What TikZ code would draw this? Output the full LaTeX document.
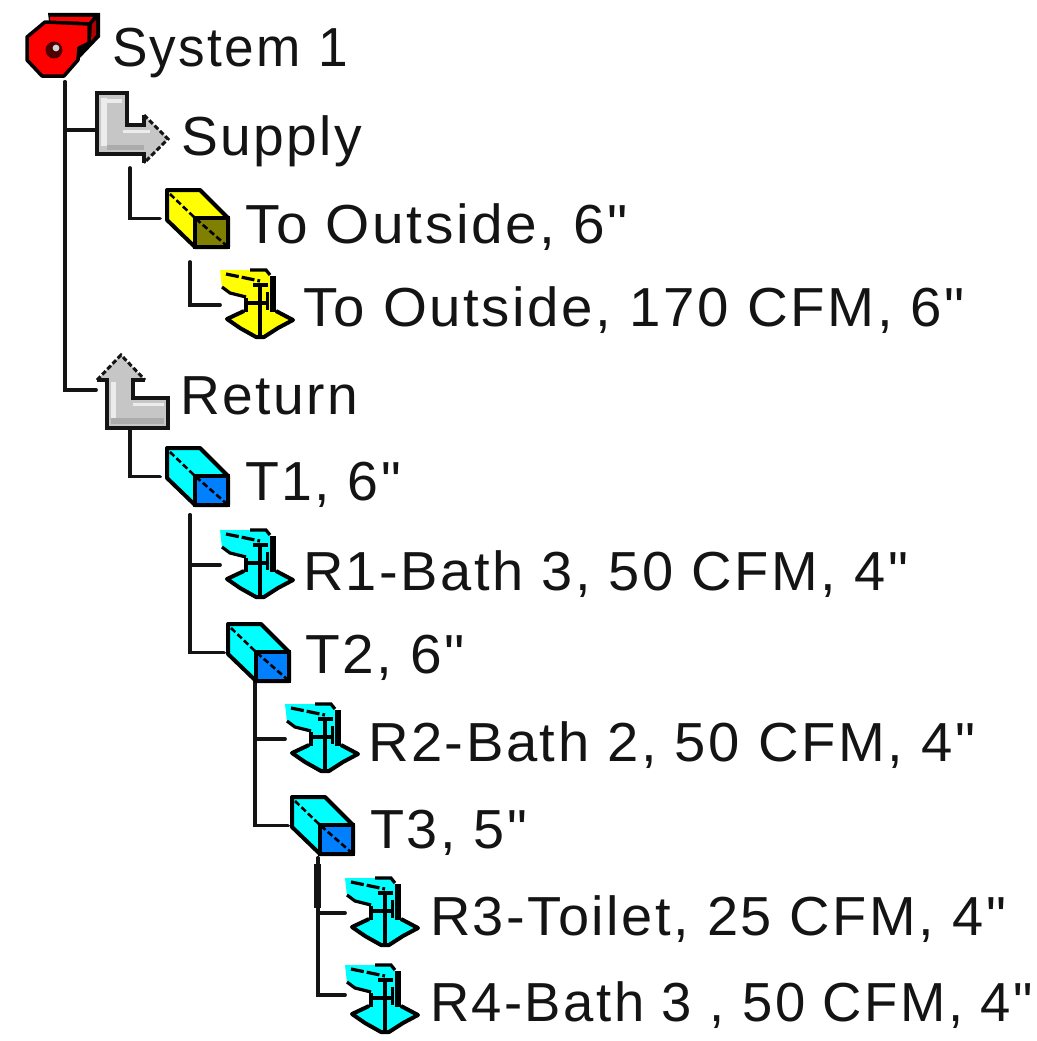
\documentclass[tikz,border=0pt]{standalone}
\usepackage{graphicx}
\usepackage{fontspec}
\newfontfamily\labfont[LetterSpace=4.5]{Liberation Sans}
\newcommand{\fitlab}[2]{\resizebox{#1pt}{\height}{#2}}
\definecolor{cyanL}{HTML}{00FFFF}
\definecolor{cyanD}{HTML}{0080FF}
\definecolor{yelL}{HTML}{FFFF00}
\definecolor{yelD}{HTML}{808000}
\definecolor{inkc}{HTML}{141414}
\tikzset{
  x=1pt,y=-1pt,
  tree/.style={draw=inkc,line width=3.8pt,line cap=round,line join=miter},
  iconbox/.style={inner sep=0pt,outer sep=0pt,minimum width=#1,anchor=center},
  ductbox/.style={inner sep=0pt,outer sep=0pt,minimum width=61pt,minimum height=57pt,anchor=north west},
  grillebox/.style={inner sep=0pt,outer sep=0pt,minimum width=73pt,minimum height=70pt,anchor=north west},
  lab/.style={anchor=base west,inner sep=0pt,outer sep=0pt,text=inkc,font=\labfont\fontsize{55}{60}\selectfont},
  pics/duct/.style n args={2}{code={
    \fill[#1] (0,0)--(33,0)--(61,28)--(61,57)--(28,57)--(0,30)--cycle;
    \fill[#2] (28,28) rectangle (61,57);
    \draw[black,line width=4pt,line join=round] (0,0)--(33,0)--(61,28)--(61,57)--(28,57)--(0,30)--cycle;
    \draw[black,line width=3.5pt] (28,28) rectangle (61,57);
    \draw[black,line width=2.6pt,dash pattern=on 6pt off 3pt] (3,4)--(28,28)--(60,56);
  }},
  pics/grille/.style={code={
    \fill[#1] (0,0)--(46,0)--(50,6)--(55,6)--(55,40)--(60,42)--(73,50)--(58,58)--(43,67)--(36,67)--(20,58)--(5,49)--(20,42)--(26,38)--(24,28)--(10,24)--(2,18)--cycle;
    \draw[black,line width=3.2pt] (30,0)--(46,0)--(50,5);
    \draw[black,line width=6pt] (53,6)--(53,42);
    \draw[black,line width=3.2pt,dash pattern=on 13pt off 3pt] (6,4)--(40,11);
    \draw[black,line width=3.2pt] (2,17)--(10,23)--(26,27);
    \draw[black,line width=4pt] (40,13)--(40,67);
    \draw[black,line width=3.2pt] (33,15)--(48,15) (28,33)--(48,33);
    \draw[black,line width=3.6pt] (26,28)--(26,42);
    \draw[black,line width=3pt] (47,22)--(47,40);
    \draw[black,line width=4pt,line join=round] (24,41)--(7,49)--(20,58)--(36,67)--(44,67)--(58,58)--(73,50)--(56,41);
  }}
}
\begin{document}
\begin{tikzpicture}[x=1pt,y=-1pt]
\useasboundingbox (0,0) rectangle (1036,1041);
% icon placeholders
\node[iconbox=73pt,minimum height=62pt] (sys) at (63.5,44) {};
\node[iconbox=71pt,minimum height=70pt] (sup) at (132.5,130) {};
\node[ductbox] (dOut) at (167,190) {};
\node[grillebox] (gOut) at (220,270) {};
\node[iconbox=73pt,minimum height=76pt] (ret) at (132.5,390) {};
\node[ductbox] (t1) at (167,448) {};
\node[grillebox] (g1) at (220,530) {};
\node[ductbox] (t2) at (228,624) {};
\node[grillebox] (g2) at (285,704) {};
\node[ductbox] (t3) at (292,797) {};
\node[grillebox] (g3) at (345,878) {};
\node[grillebox,minimum height=60pt] (g4) at (345,965) {};
% stems
\coordinate (stemA) at (65,82);
\coordinate (stemB) at (130,168);
\coordinate (stemC) at (190,262);
\coordinate (stemD) at (130,428);
\coordinate (stemE) at (190,515);
\coordinate (stemF) at (255,682);
\coordinate (stemG) at (318,858);
% connectors
\draw[tree] (stemA) |- (sup.west);
\draw[tree] (stemA) |- (ret.west);
\draw[tree,shorten >=7pt] (stemB) |- (dOut.west);
\draw[tree] (stemC) |- (gOut.west);
\draw[tree,shorten >=7pt] (stemD) |- (t1.west);
\draw[tree] (stemE) |- (g1.west);
\draw[tree,shorten >=4pt] (stemE) |- (t2.west);
\draw[tree] (stemF) |- (g2.west);
\draw[tree,shorten >=4pt] (stemF) |- (t3.west);
\draw[tree] (stemG) |- (g3.west);
\draw[tree] (stemG) |- (g4.west);
\draw[draw=inkc,line width=7pt] (317,864)--(317,908);
% system fan
\fill[black] (48,13)--(100,13)--(100,37)--(78,60)--(50,30)--cycle;
\fill[red] (50,17)--(93,17)--(89,22)--(50,21)--cycle;
\fill[red!70!black] (92,24)--(96,20)--(96,35)--(91,41)--cycle;
\fill[red] (27,37)--(45,22)--(89,24)--(89,43)--(79,48)--(78,60)--(64,76)--(42,76)--(27,60)--cycle;
\draw[black,line width=3.5pt,line join=round] (27,37)--(45,22)--(89,24)--(89,43)--(79,48)--(78,60)--(64,76)--(42,76)--(27,60)--cycle;
\fill[red!30!black] (54,50) circle (8.5);
\fill[gray!35] (56,48) circle (3.4);
% supply arrow
\fill[gray!45] (97,93)--(127,93)--(127,125)--(144,125)--(144,115)--(168,139)--(144,163)--(144,154)--(97,154)--cycle;
\fill[gray!15] (101,98) rectangle (107,146);
\fill[gray!15] (107,99) rectangle (122,103);
\fill[gray!15] (123,130) rectangle (150,133);
\fill[gray!65] (107,145) rectangle (144,150);
\draw[inkc,line width=4pt,line join=miter] (144,115)--(144,125)--(127,125)--(127,93)--(97,93)--(97,154)--(144,154)--(144,163);
\draw[inkc,line width=3pt,dash pattern=on 5pt off 2.5pt] (144,115)--(168,139)--(144,163);
% return arrow
\fill[gray!45] (121,355)--(145,380)--(133,380)--(133,398)--(168,398)--(168,428)--(107,428)--(107,380)--(97,380)--cycle;
\fill[gray!15] (111,382) rectangle (116,418);
\fill[gray!15] (133,403) rectangle (164,406);
\fill[gray!65] (111,418) rectangle (164,424);
\draw[inkc,line width=4pt,line join=miter] (97,380)--(107,380)--(107,428)--(168,428)--(168,398)--(133,398)--(133,380)--(145,380);
\draw[inkc,line width=3pt,dash pattern=on 5pt off 2.5pt] (97,380)--(121,355)--(145,380);
% ducts
\pic at (dOut.north west) {duct={yelL}{yelD}};
\pic at (t1.north west) {duct={cyanL}{cyanD}};
\pic at (t2.north west) {duct={cyanL}{cyanD}};
\pic at (t3.north west) {duct={cyanL}{cyanD}};
% grilles
\pic at (gOut.north west) {grille=yelL};
\pic at (g1.north west) {grille=cyanL};
\pic at (g2.north west) {grille=cyanL};
\pic at (g3.north west) {grille=cyanL};
\pic at (g4.north west) {grille=cyanL};
% labels
\node[lab] (l0) at (112,67) {\fitlab{236}{System 1}};
\node[lab] (l1) at (181,155) {\fitlab{181}{Supply}};
\node[lab] (l2) at (245,243) {\fitlab{383}{To Outside, 6"}};
\node[lab] (l3) at (303,326) {\fitlab{662}{To Outside, 170 CFM, 6"}};
\node[lab] (l4) at (180,414) {\fitlab{178}{Return}};
\node[lab] (l5) at (245,500) {\fitlab{156}{T1, 6"}};
\node[lab] (l6) at (303,590) {\fitlab{605}{R1-Bath 3, 50 CFM, 4"}};
\node[lab] (l7) at (305,673) {\fitlab{160}{T2, 6"}};
\node[lab] (l8) at (368,761) {\fitlab{607}{R2-Bath 2, 50 CFM, 4"}};
\node[lab] (l9) at (370,848) {\fitlab{157}{T3, 5"}};
\node[lab] (l10) at (430,935) {\fitlab{576}{R3-Toilet, 25 CFM, 4"}};
\node[lab] (l11) at (430,1021) {\fitlab{603}{R4-Bath 3 , 50 CFM, 4"}};
\end{tikzpicture}
\end{document}
